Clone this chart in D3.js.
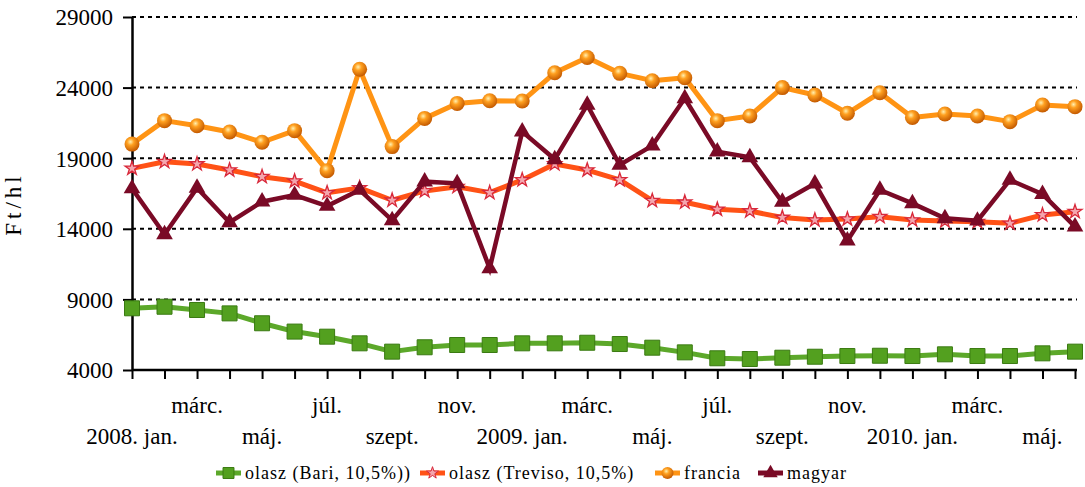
<!DOCTYPE html>
<html><head><meta charset="utf-8">
<script src="https://cdn.jsdelivr.net/npm/d3@7"></script>
<style>
html,body{margin:0;padding:0;background:#fff;}
svg{display:block;}
svg text{font-family:"Liberation Serif","DejaVu Serif","Times New Roman",Times,serif !important;fill:#000;}
</style></head>
<body>
<svg id="chart" width="1085" height="487"></svg>
<script>
const months = ["2008. jan.","febr.","márc.","ápr.","máj.","jún.","júl.","aug.","szept.","okt.","nov.","dec.",
  "2009. jan.","febr.","márc.","ápr.","máj.","jún.","júl.","aug.","szept.","okt.","nov.","dec.",
  "2010. jan.","febr.","márc.","ápr.","máj.","jún."];
const bari = [8370,8480,8250,8010,7310,6720,6360,5890,5300,5610,5770,5770,5890,5890,5930,5840,5580,5250,4830,4780,4870,4940,4990,5010,4990,5110,4990,4990,5180,5300];
const treviso = [18280,18750,18590,18160,17690,17380,16550,16900,16020,16680,16980,16560,17460,18590,18160,17460,15990,15880,15380,15260,14800,14620,14690,14860,14620,14550,14500,14390,14980,15210];
const francia = [20000,21660,21300,20860,20130,20950,18120,25300,19820,21820,22880,23070,23050,25050,26130,25010,24490,24700,21660,21990,24000,23480,22180,23640,21890,22130,21990,21590,22770,22650];
const magyar = [16850,13600,16900,14450,15920,16390,15610,16750,14600,17340,17220,11200,20880,18920,22770,18520,19890,23240,19460,19060,15900,17200,13160,16750,15800,14740,14570,17460,16450,14150];
const yTicks = [4000,9000,14000,19000,24000,29000];
const legendLabels = ["olasz (Bari, 10,5%))","olasz (Treviso, 10,5%)","francia","magyar"];

(function(){
const FONT = '"Liberation Serif","DejaVu Serif",serif';
const svg = d3.select("#chart").style("font-family", FONT);
const mLeft = 132, mRight = 1075, mTop = 17, mBottom = 370;
const x = d3.scalePoint().domain(d3.range(months.length)).range([mLeft, mRight]);
const y = d3.scaleLinear().domain([4000, 29000]).range([mBottom, mTop]);

const defs = svg.append("defs");
const grad = defs.append("radialGradient").attr("id","ball").attr("cx","40%").attr("cy","35%").attr("r","65%");
grad.append("stop").attr("offset","0%").attr("stop-color","#FFF0B0");
grad.append("stop").attr("offset","35%").attr("stop-color","#FFA020");
grad.append("stop").attr("offset","100%").attr("stop-color","#C45A00");

// gridlines
svg.append("g").selectAll("line").data(yTicks.filter(d => d > 4000)).join("line")
  .attr("x1", mLeft).attr("x2", mRight + 2)
  .attr("y1", d => y(d)).attr("y2", d => y(d))
  .attr("stroke","#000").attr("stroke-width",2).attr("stroke-dasharray","4,4");

// y axis
const yAxis = d3.axisLeft(y).tickValues(yTicks).tickSize(9).tickSizeOuter(0).tickPadding(10).tickFormat(d3.format("d"));
const gy = svg.append("g").attr("transform",`translate(${mLeft},0)`).call(yAxis);
gy.attr("font-family", null).attr("font-size", null);
gy.select(".domain").attr("stroke","#000").attr("stroke-width",2.5);
gy.selectAll(".tick line").attr("stroke","#000").attr("stroke-width",2);
gy.selectAll(".tick text").style("font-family", FONT).style("font-size","23px").attr("fill","#000").attr("dy","0.34em");

// x axis
const xAxis = d3.axisBottom(x).tickSize(9).tickSizeOuter(0).tickFormat("");
const gx = svg.append("g").attr("transform",`translate(0,${mBottom})`).call(xAxis);
gx.select(".domain").attr("stroke","#000").attr("stroke-width",2.5).attr("d",`M${mLeft},0H${mRight+2}`);
gx.selectAll(".tick line").attr("stroke","#000").attr("stroke-width",2);
// x labels on two rows
svg.append("g").selectAll("text").data(d3.range(0, months.length, 2)).join("text")
  .attr("x", i => x(i)).attr("y", i => (i % 4 === 2) ? 413 : 444)
  .attr("text-anchor","middle").style("font-family", FONT).style("font-size","23px").text(i => months[i]);

// y title
svg.append("text").attr("transform","translate(21,204) rotate(-90)").attr("text-anchor","middle")
  .style("font-family", FONT).style("font-size","23px").attr("letter-spacing","4px").text("Ft/hl");

const line = d3.line().x((d,i) => x(i)).y(d => y(d));

// Bari
svg.append("path").datum(bari).attr("d", line).attr("fill","none").attr("stroke","#5CA82A").attr("stroke-width",5).attr("stroke-linejoin","round");
svg.append("g").selectAll("path").data(bari).join("path")
  .attr("transform",(d,i)=>`translate(${x(i)},${y(d)})`)
  .attr("d", d3.symbol(d3.symbolSquare, 225)())
  .attr("fill","#53A01F").attr("stroke","#3A7A12").attr("stroke-width",1);

// Treviso
svg.append("path").datum(treviso).attr("d", line).attr("fill","none").attr("stroke","#FF5216").attr("stroke-width",5).attr("stroke-linejoin","round");
svg.append("g").selectAll("path").data(treviso).join("path")
  .attr("transform",(d,i)=>`translate(${x(i)},${y(d)})`)
  .attr("d", d3.symbol(d3.symbolStar, 60)())
  .attr("fill","#F4A6AE").attr("stroke","#D8283A").attr("stroke-width",1.3);

// Francia
svg.append("path").datum(francia).attr("d", line).attr("fill","none").attr("stroke","#FF9414").attr("stroke-width",5).attr("stroke-linejoin","round");
svg.append("g").selectAll("circle").data(francia).join("circle")
  .attr("cx",(d,i)=>x(i)).attr("cy", d=>y(d)).attr("r",7.5).attr("fill","url(#ball)");

// Magyar
svg.append("path").datum(magyar).attr("d", line).attr("fill","none").attr("stroke","#7A0A26").attr("stroke-width",4.5).attr("stroke-linejoin","miter");
svg.append("g").selectAll("path").data(magyar).join("path")
  .attr("transform",(d,i)=>`translate(${x(i)},${y(d)})`)
  .attr("d", d3.symbol(d3.symbolTriangle, 120)())
  .attr("fill","#7A0A26");

// legend
const legendX = [216, 420, 655, 758];
const lg = svg.append("g");
const ly = 473;
const lineColors = ["#5CA82A","#FF5216","#FF9414","#7A0A26"];
legendLabels.forEach((lab, k) => {
  const g = lg.append("g").attr("transform",`translate(${legendX[k]},${ly})`);
  g.append("line").attr("x1",0).attr("x2",25).attr("y1",0).attr("y2",0).attr("stroke",lineColors[k]).attr("stroke-width",5);
  if (k === 0) g.append("path").attr("transform","translate(12.5,0)").attr("d", d3.symbol(d3.symbolSquare, 120)()).attr("fill","#53A01F").attr("stroke","#3A7A12");
  if (k === 1) g.append("path").attr("transform","translate(12.5,0)").attr("d", d3.symbol(d3.symbolStar, 45)()).attr("fill","#F4A6AE").attr("stroke","#D8283A");
  if (k === 2) g.append("circle").attr("cx",12.5).attr("cy",0).attr("r",6).attr("fill","url(#ball)");
  if (k === 3) g.append("path").attr("transform","translate(12.5,0)").attr("d", d3.symbol(d3.symbolTriangle, 90)()).attr("fill","#7A0A26");
  g.append("text").attr("x",29).attr("y",6).style("font-family", FONT).style("font-size","18px").attr("letter-spacing","1px").text(lab);
});
})();
</script>
</body></html>
